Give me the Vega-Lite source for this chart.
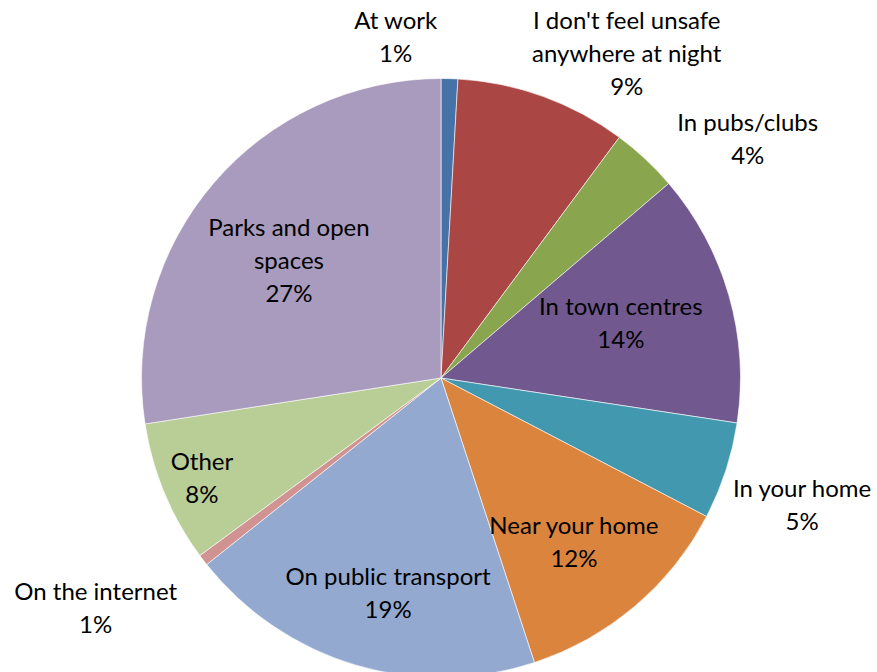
{
  "$schema": "https://vega.github.io/schema/vega-lite/v6.json",
  "autosize": {"type": "none"},
  "padding": {"top": 84, "left": 5, "right": 0, "bottom": 0},
  "width": 872,
  "height": 588,
  "background": "white",
  "config": {
    "view": {"stroke": null},
    "text": {"font": "Lato", "fontSize": 24, "lineHeight": 33, "color": "#000000", "align": "center", "baseline": "middle"}
  },
  "data": {
    "values": [
      {"place": "At work", "share": 0.009, "label": ["At work", "1%"]},
      {"place": "I don't feel unsafe anywhere at night", "share": 0.0925, "label": ["I don't feel unsafe", "anywhere at night", "9%"]},
      {"place": "In pubs/clubs", "share": 0.036, "label": ["In pubs/clubs", "4%"]},
      {"place": "In town centres", "share": 0.1365, "label": ["In town centres", "14%"]},
      {"place": "In your home", "share": 0.0525, "label": ["In your home", "5%"]},
      {"place": "Near your home", "share": 0.123, "label": ["Near your home", "12%"]},
      {"place": "On public transport", "share": 0.1935, "label": ["On public transport", "19%"]},
      {"place": "On the internet", "share": 0.006, "label": ["On the internet", "1%"]},
      {"place": "Other", "share": 0.0765, "label": ["Other", "8%"]},
      {"place": "Parks and open spaces", "share": 0.2745, "label": ["Parks and open", "spaces", "27%"]}
    ]
  },
  "transform": [{"window": [{"op": "row_number", "as": "idx"}]}],
  "encoding": {
    "theta": {"field": "share", "type": "quantitative", "stack": true, "scale": {"domain": [0, 1]}},
    "order": {"field": "idx", "type": "quantitative"},
    "detail": {"field": "place", "type": "nominal"}
  },
  "layer": [
    {
      "mark": {"type": "arc", "outerRadius": 299.5, "stroke": "#ffffff", "strokeWidth": 0.6},
      "encoding": {
        "color": {
          "field": "place",
          "type": "nominal",
          "legend": null,
          "scale": {
            "domain": ["At work", "I don't feel unsafe anywhere at night", "In pubs/clubs", "In town centres", "In your home", "Near your home", "On public transport", "On the internet", "Other", "Parks and open spaces"],
            "range": ["#4572A7", "#AA4643", "#89A54E", "#71588F", "#4198AF", "#DB843D", "#93A9CF", "#D19392", "#B9CD96", "#A99BBD"]
          }
        }
      }
    },
    {"mark": {"type": "text", "radius": 342.7, "dx": -55, "dy": -13.5},
     "encoding": {"text": {"condition": {"test": "datum.place === 'At work'", "field": "label", "type": "nominal"}, "value": ""}}},
    {"mark": {"type": "text", "radius": 372.5, "dx": 59, "dy": -6},
     "encoding": {"text": {"condition": {"test": "datum.place === \"I don't feel unsafe anywhere at night\"", "field": "label", "type": "nominal"}, "value": ""}}},
    {"mark": {"type": "text", "radius": 388, "dx": 42, "dy": 29.5},
     "encoding": {"text": {"condition": {"test": "datum.place === 'In pubs/clubs'", "field": "label", "type": "nominal"}, "value": ""}}},
    {"mark": {"type": "text", "radius": 187, "dx": 0, "dy": -18.5},
     "encoding": {"text": {"condition": {"test": "datum.place === 'In town centres'", "field": "label", "type": "nominal"}, "value": ""}}},
    {"mark": {"type": "text", "radius": 383, "dx": -3, "dy": -6.5},
     "encoding": {"text": {"condition": {"test": "datum.place === 'In your home'", "field": "label", "type": "nominal"}, "value": ""}}},
    {"mark": {"type": "text", "radius": 211.6, "dx": -4, "dy": -12.5},
     "encoding": {"text": {"condition": {"test": "datum.place === 'Near your home'", "field": "label", "type": "nominal"}, "value": ""}}},
    {"mark": {"type": "text", "radius": 223, "dx": 11, "dy": -13.5},
     "encoding": {"text": {"condition": {"test": "datum.place === 'On public transport'", "field": "label", "type": "nominal"}, "value": ""}}},
    {"mark": {"type": "text", "radius": 416, "dx": -15, "dy": -37.5},
     "encoding": {"text": {"condition": {"test": "datum.place === 'On the internet'", "field": "label", "type": "nominal"}, "value": ""}}},
    {"mark": {"type": "text", "radius": 260, "dx": 1, "dy": -14.5},
     "encoding": {"text": {"condition": {"test": "datum.place === 'Other'", "field": "label", "type": "nominal"}, "value": ""}}},
    {"mark": {"type": "text", "radius": 191, "dx": -7, "dy": -25},
     "encoding": {"text": {"condition": {"test": "datum.place === 'Parks and open spaces'", "field": "label", "type": "nominal"}, "value": ""}}}
  ]
}
